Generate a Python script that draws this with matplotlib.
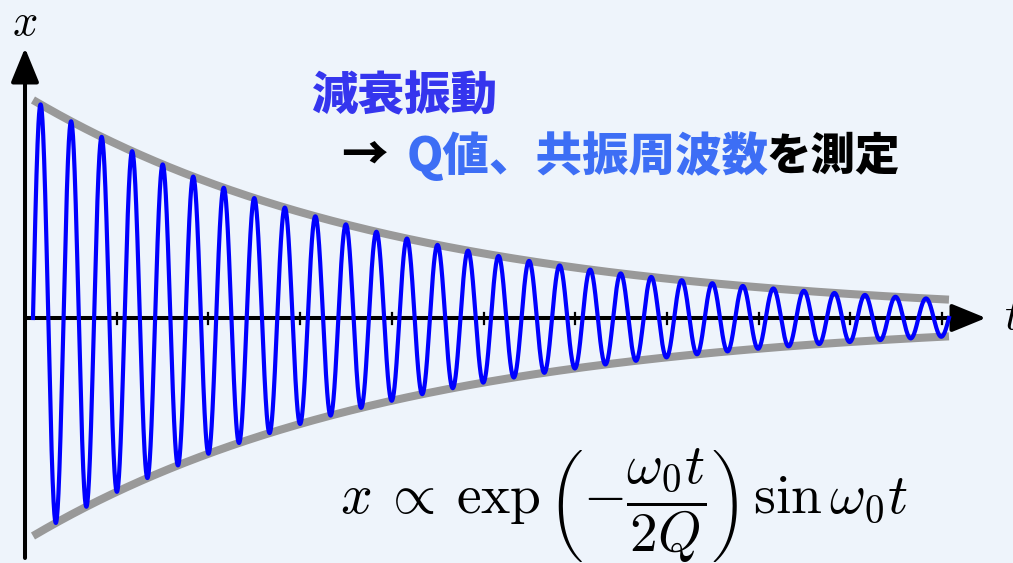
import matplotlib as mpl
mpl.use("Agg")
import matplotlib.pyplot as plt
import numpy as np

# ---------------------------------------------------------------------------
# Damped oscillation x ~ exp(-w0 t / 2Q) sin(w0 t)
# ---------------------------------------------------------------------------
T_START = 0.087        # where the trace starts (axis units)
T_END = 10.076         # where the trace stops
N_CYCLES = 30          # full oscillations drawn
AMPLITUDE = 1.0
Q_VALUE = 38.1
TICKS = [1, 2, 3, 4, 5, 6, 7, 8, 9, 10]

TITLE_1 = "減衰振動"
TITLE_ARROW = "→"
TITLE_2_BLUE = "Q値、共振周波数"
TITLE_2_BLACK = "を測定"
FORMULA = r"$x\:\propto\:\exp\left(-\dfrac{\omega_0 t}{2Q}\right)\,\sin\omega_0 t$"

W, H = 1013, 563
BG = "#eef4fb"
JP = ["Noto Sans CJK JP", "DejaVu Sans"]

mpl.rcParams["mathtext.fontset"] = "cm"

omega0 = 2 * np.pi * N_CYCLES / (T_END - T_START)
t = np.linspace(T_START, T_END, 6000)
env = AMPLITUDE * np.exp(-omega0 * (t - T_START) / (2 * Q_VALUE))
x = env * np.sin(omega0 * (t - T_START))

fig = plt.figure(figsize=(W / 100, H / 100), dpi=100, facecolor=BG)
ax = fig.add_axes([0, 0, 1, 1])
ax.set_facecolor(BG)
ax.axis("off")

# pixel layout: origin at (25, 318), 91.7 px per t unit, 218 px per amplitude
PX_T, PX_A, X0, Y0 = 91.7, 218.0, 25.0, 318.0
ax.set_xlim(-X0 / PX_T, (W - X0) / PX_T)
ax.set_ylim(-(H - Y0) / PX_A, Y0 / PX_A)


def fx(px):
    return px / W


def fy(py):
    return 1 - py / H


# envelope and trace
ax.plot(t, env, color="#999999", lw=5.8, solid_capstyle="butt", zorder=2)
ax.plot(t, -env, color="#999999", lw=5.8, solid_capstyle="butt", zorder=2)
ax.plot(t, x, color="#0000ff", lw=3.0, zorder=4)

# axes with arrow heads
arrow = dict(arrowstyle="-|>,head_length=21,head_width=8.6", mutation_scale=1,
             lw=2.9, color="black", shrinkA=0, shrinkB=0)
ax.annotate("", xy=(0, (Y0 - 48) / PX_A), xytext=(0, -(558 - Y0) / PX_A),
            arrowprops=arrow, zorder=3)
ax.annotate("", xy=((986 - X0) / PX_T, 0), xytext=(0, 0),
            arrowprops=arrow, zorder=3)
tick_h = 5.5 / PX_A
for tk in TICKS:
    ax.plot([tk, tk], [-tick_h, tick_h], color="black", lw=1.6, zorder=3)

ax.text(fx(25), fy(22), "$x$", fontsize=32, ha="center", va="center",
        transform=ax.transAxes)
ax.text(fx(1004), fy(316), "$t$", fontsize=32, ha="left", va="center",
        transform=ax.transAxes)

# headline text
kw = dict(fontsize=33.5, fontweight="black", family=JP, va="center",
          ha="left", transform=ax.transAxes)
ax.text(fx(312), fy(97), TITLE_1, color="#3535ee", **kw)
ax.text(fx(341), fy(156), TITLE_ARROW, color="black", **kw)
blue = ax.text(fx(407), fy(156), TITLE_2_BLUE, color="#3d6ef5", **kw)
fig.canvas.draw()
right = blue.get_window_extent().x1
kw["fontsize"] = 32
ax.text(fx(right - 3), fy(156), TITLE_2_BLACK, color="black", **kw)

ax.text(fx(340), fy(506), FORMULA, fontsize=40, ha="left", va="center",
        transform=ax.transAxes)

fig.savefig("out.png", dpi=100, facecolor=BG)
